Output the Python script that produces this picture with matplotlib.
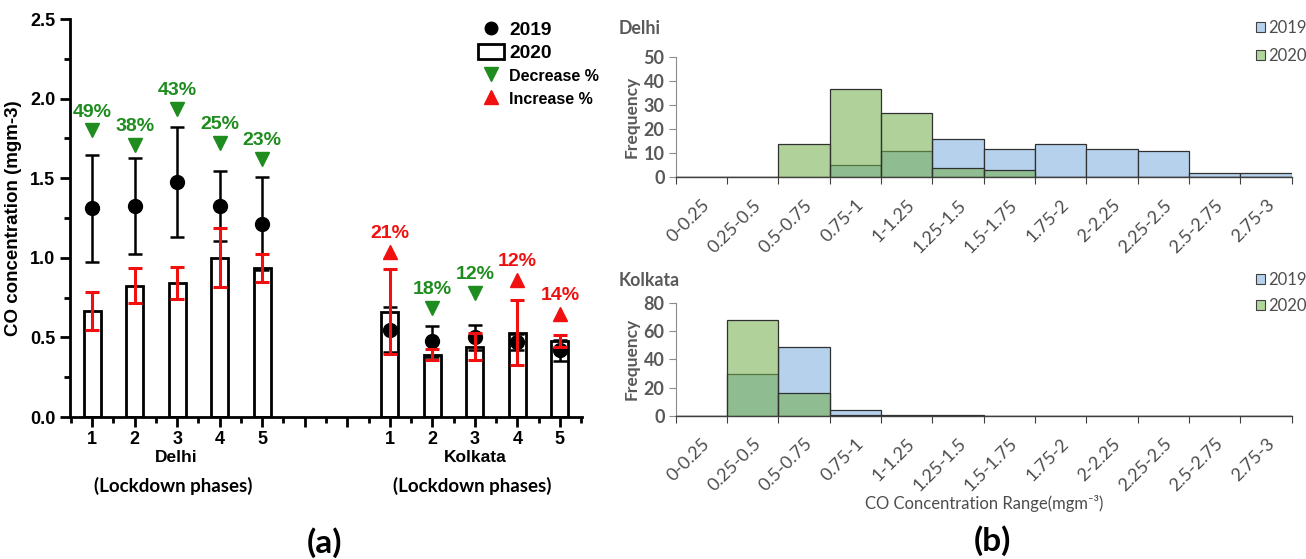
import matplotlib
matplotlib.use("Agg")
import matplotlib.pyplot as plt
from matplotlib.lines import Line2D
from matplotlib.patches import Patch
from matplotlib.ticker import MultipleLocator, FixedLocator, NullFormatter, FormatStrFormatter

# ---------------- data: lockdown phase means (mg m-3) ----------------
phases = [1, 2, 3, 4, 5]
delhi_2019 = [1.31, 1.325, 1.475, 1.325, 1.215]
delhi_2019_err = [0.335, 0.30, 0.345, 0.22, 0.29]
delhi_2020 = [0.665, 0.825, 0.84, 1.00, 0.935]
delhi_2020_err = [0.12, 0.11, 0.10, 0.185, 0.09]

kolkata_2019 = [0.548, 0.475, 0.50, 0.473, 0.418]
kolkata_2019_err = [0.14, 0.095, 0.08, 0.05, 0.065]
kolkata_2020 = [0.662, 0.39, 0.44, 0.53, 0.477]
kolkata_2020_err = [0.268, 0.035, 0.085, 0.205, 0.04]

delhi_change = ["49%", "38%", "43%", "25%", "23%"]
delhi_direction = ["down", "down", "down", "down", "down"]
delhi_marker_y = [1.80, 1.71, 1.935, 1.72, 1.62]
kolkata_change = ["21%", "18%", "12%", "12%", "14%"]
kolkata_direction = ["up", "down", "down", "up", "up"]
kolkata_marker_y = [1.035, 0.683, 0.78, 0.86, 0.65]

# ---------------- data: frequency distributions ----------------
conc_bins = ["0-0.25", "0.25-0.5", "0.5-0.75", "0.75-1", "1-1.25", "1.25-1.5",
             "1.5-1.75", "1.75-2", "2-2.25", "2.25-2.5", "2.5-2.75", "2.75-3"]
delhi_freq_2019 = [0, 0, 0, 5, 11, 16, 12, 14, 12, 11, 2, 2]
delhi_freq_2020 = [0, 0, 14, 37, 27, 4, 3, 0, 0, 0, 0, 0]
kolkata_freq_2019 = [0, 30, 49, 4, 1, 1, 0, 0, 0, 0, 0, 0]
kolkata_freq_2020 = [0, 68, 16, 1, 0, 0, 0, 0, 0, 0, 0, 0]

GREEN = "#1e8c1e"
RED = "#f01010"
ARIAL = "Liberation Sans"
CALIBRI = "Lato"
GREY = "#595959"
W, H = 1306, 559


def fx(px):
    return px / W


def fy(py):
    return 1 - py / H


fig = plt.figure(figsize=(13.06, 5.59), dpi=100)

# ======================= panel (a) =======================
ax = fig.add_axes([fx(70), fy(417), fx(512), 398 / H])
x_delhi = [p for p in phases]
x_kolkata = [p + 7 for p in phases]

bar_w = 0.4
ax.bar(x_delhi, delhi_2020, width=bar_w, facecolor="white", edgecolor="black", linewidth=2, zorder=2)
ax.bar(x_kolkata, kolkata_2020, width=bar_w, facecolor="white", edgecolor="black", linewidth=2, zorder=2)

for xs, ys, es in [(x_delhi, delhi_2019, delhi_2019_err), (x_kolkata, kolkata_2019, kolkata_2019_err)]:
    ax.errorbar(xs, ys, yerr=es, fmt="o", color="black", ms=10, ecolor="black",
                elinewidth=1.8, capsize=5, capthick=1.8, zorder=3)
for xs, ys, es in [(x_delhi, delhi_2020, delhi_2020_err), (x_kolkata, kolkata_2020, kolkata_2020_err)]:
    ax.errorbar(xs, ys, yerr=es, fmt="none", ecolor=RED,
                elinewidth=2.2, capsize=5, capthick=2.2, zorder=4)

for xs, labels, dirs, my in [(x_delhi, delhi_change, delhi_direction, delhi_marker_y),
                             (x_kolkata, kolkata_change, kolkata_direction, kolkata_marker_y)]:
    for xv, lab, d, yv in zip(xs, labels, dirs, my):
        col = GREEN if d == "down" else RED
        mk = "v" if d == "down" else "^"
        ax.plot(xv, yv, marker=mk, color=col, ms=9.5, ls="none", zorder=5)
        ax.text(xv, yv + 0.115, lab, color=col, ha="center", va="center",
                fontsize=14, fontweight="bold", family=ARIAL)

ax.set_xlim(0.48, 12.52)
ax.set_ylim(0, 2.5)
ax.spines["top"].set_visible(False)
ax.spines["right"].set_visible(False)
for s in ("left", "bottom"):
    ax.spines[s].set_linewidth(2)
ax.xaxis.set_major_locator(FixedLocator(list(range(1, 13))))
ax.xaxis.set_minor_locator(MultipleLocator(0.5))
ax.set_xticklabels(["1", "2", "3", "4", "5", "", "", "1", "2", "3", "4", "5"])
ax.yaxis.set_major_locator(MultipleLocator(0.5))
ax.yaxis.set_minor_locator(MultipleLocator(0.25))
ax.yaxis.set_major_formatter(FormatStrFormatter("%.1f"))
ax.tick_params(which="major", length=7, width=2, direction="out")
ax.tick_params(which="minor", length=4, width=2, direction="out")
ax.tick_params(axis="x", pad=3)
for lab in ax.get_xticklabels() + ax.get_yticklabels():
    lab.set_fontsize(13)
    lab.set_fontweight("bold")
    lab.set_family(ARIAL)
ax.set_ylabel("CO concentration (mgm-3)", fontsize=13.5, fontweight="bold", family=ARIAL, labelpad=6)

handles = [
    Line2D([], [], marker="o", color="black", ls="none", ms=9),
    Patch(facecolor="white", edgecolor="black", linewidth=2),
    Line2D([], [], marker="v", color=GREEN, ls="none", ms=10),
    Line2D([], [], marker="^", color=RED, ls="none", ms=10),
]
leg = ax.legend(handles, ["2019", "2020", "Decrease %", "Increase %"], loc="upper left",
                bbox_to_anchor=(fx(478), fy(21)), bbox_transform=fig.transFigure,
                frameon=False, handlelength=1.4, handleheight=0.8,
                handletextpad=0.25, labelspacing=0.3, borderaxespad=0.0, borderpad=0.0,
                prop={"family": ARIAL, "weight": "bold", "size": 13.5})
for i, t in enumerate(leg.get_texts()):
    t.set_fontsize(13.8 if i < 2 else 11.5)

for xc, name in [(176, "Delhi"), (475, "Kolkata")]:
    fig.text(fx(xc), fy(458), name, ha="center", va="center", fontsize=12.5,
             fontweight="bold", family=ARIAL)
    fig.text(fx(xc - 3), fy(486), "(Lockdown phases)", ha="center", va="center",
             fontsize=13.5, fontweight="bold", family=CALIBRI)
fig.text(fx(324), fy(543), "(a)", ha="center", va="center", fontsize=24,
         fontweight="bold", family=CALIBRI)
fig.text(fx(992), fy(541), "(b)", ha="center", va="center", fontsize=24,
         fontweight="bold", family=CALIBRI)

# ======================= panel (b) =======================
BLUE_FILL = (0.71, 0.82, 0.925)
GREEN_FILL = (0.44, 0.68, 0.28, 0.55)
AX_LEFT, AX_RIGHT = 675.7, 1291.7
LABEL_GREY = "#4d4d4d"


def freq_panel(y_top, y_zero, title, title_y, leg_rows, f2019, f2020, ymax, ystep):
    axh = fig.add_axes([fx(AX_LEFT), fy(y_zero), fx(AX_RIGHT - AX_LEFT), (y_zero - y_top) / H])
    idx = list(range(len(conc_bins)))
    axh.bar(idx, f2019, width=1.0, align="edge", facecolor=BLUE_FILL,
            edgecolor="#303030", linewidth=0.9, zorder=2)
    axh.bar(idx, f2020, width=1.0, align="edge", facecolor=GREEN_FILL,
            edgecolor="#303030", linewidth=0.9, zorder=3)
    axh.set_xlim(0, len(conc_bins))
    axh.set_ylim(0, ymax)
    axh.spines["top"].set_visible(False)
    axh.spines["right"].set_visible(False)
    axh.spines["left"].set_color("#8c8c8c")
    axh.spines["bottom"].set_color("#404040")
    axh.spines["bottom"].set_linewidth(1.0)
    axh.xaxis.set_major_locator(FixedLocator(list(range(len(conc_bins) + 1))))
    axh.xaxis.set_major_formatter(NullFormatter())
    axh.xaxis.set_minor_locator(FixedLocator([i + 0.5 for i in idx]))
    axh.set_xticklabels(conc_bins, minor=True, rotation=45, ha="right", va="top",
                        rotation_mode="anchor", fontsize=13, color=LABEL_GREY, family=CALIBRI)
    axh.tick_params(axis="x", which="minor", length=0, pad=14)
    axh.tick_params(axis="x", which="major", length=5, color="#404040")
    axh.yaxis.set_major_locator(MultipleLocator(ystep))
    axh.tick_params(axis="y", length=5, color="#8c8c8c", labelsize=13, labelcolor=GREY, pad=3)
    for lab in axh.get_yticklabels():
        lab.set_family(CALIBRI)
        lab.set_fontweight("bold")
    fig.text(fx(632), fy((y_top + y_zero) / 2), "Frequency", rotation=90, ha="center",
             va="center", fontsize=12.5, fontweight="bold", color=GREY, family=CALIBRI)
    fig.text(fx(619), fy(title_y), title, fontsize=12.8, fontweight="bold",
             color=GREY, family=CALIBRI, ha="left", va="center")
    lh = [Patch(facecolor=BLUE_FILL, edgecolor="#404040", linewidth=0.8),
          Patch(facecolor=(0.69, 0.84, 0.6), edgecolor="#404040", linewidth=0.8)]
    pitch = leg_rows[1] - leg_rows[0]
    lg = axh.legend(lh, ["2019", "2020"], loc="upper left",
                    bbox_to_anchor=(fx(1256), fy(leg_rows[0] - 9)), bbox_transform=fig.transFigure,
                    frameon=False, handlelength=0.55, handleheight=0.55, handletextpad=0.2,
                    labelspacing=(pitch - 17) / 16.7, borderaxespad=0.0, borderpad=0.0,
                    prop={"family": CALIBRI, "size": 12})
    for t in lg.get_texts():
        t.set_color(LABEL_GREY)
    return axh


freq_panel(57.3, 177.3, "Delhi", 29, (29, 58), delhi_freq_2019, delhi_freq_2020, 50, 10)
freq_panel(302.7, 416.0, "Kolkata", 280, (281, 308), kolkata_freq_2019, kolkata_freq_2020, 80, 20)

fig.text(fx((AX_LEFT + AX_RIGHT) / 2), fy(503), "CO Concentration Range(mgm\u207b\u00b3)",
         ha="center", va="center", fontsize=12, color=LABEL_GREY, family=[CALIBRI, "DejaVu Sans"])

fig.savefig("out.png", dpi=100)
